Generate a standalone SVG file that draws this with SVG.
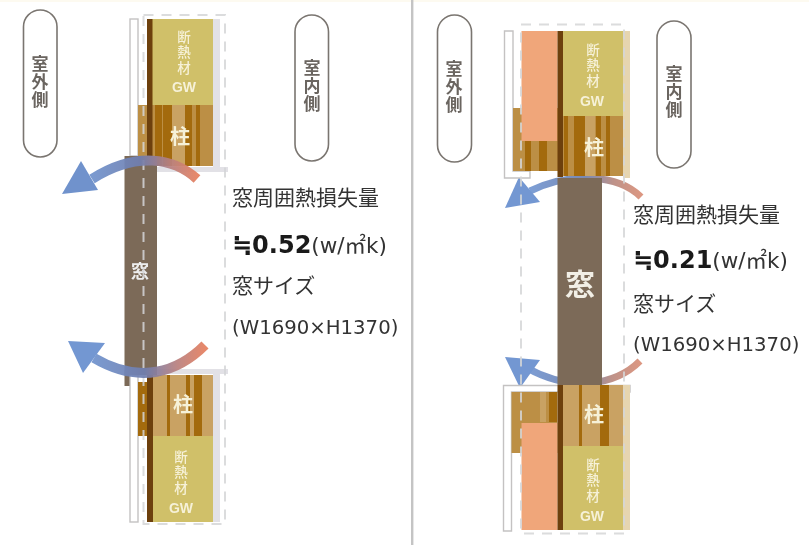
<svg xmlns="http://www.w3.org/2000/svg" width="809" height="545" viewBox="0 0 809 545">
<style>
.pill{fill:#fff;stroke:#7a7570;stroke-width:1.6}
.pt{font-family:"Noto Sans CJK JP",sans-serif;font-weight:700;fill:#6b6560;font-size:17px;text-anchor:middle;writing-mode:vertical-rl;letter-spacing:.7px}
.wt{font-family:"Noto Sans CJK JP",sans-serif;font-weight:700;fill:#f6f1d8;text-anchor:middle}
.wv{font-family:"Noto Sans CJK JP",sans-serif;font-weight:500;fill:#f6f1d8;font-size:13.500px;text-anchor:middle;writing-mode:vertical-rl;letter-spacing:1.800px}
.gw{font-family:"Liberation Sans",sans-serif;font-weight:700;fill:#f6f1d8;font-size:14px;text-anchor:middle}
.t{font-family:"Noto Sans CJK JP",sans-serif;font-size:21px;fill:#333}
.l{font-family:"DejaVu Sans","Noto Sans CJK JP",sans-serif;font-size:19.700px;fill:#333}
.u{font-family:"DejaVu Sans","Noto Sans CJK JP",sans-serif;font-size:21.500px;font-weight:400;fill:#333}
.b{font-family:"DejaVu Sans","Noto Sans CJK JP",sans-serif;font-size:24px;font-weight:700;fill:#1a1a1a}
.sid{fill:#fff;stroke:#c4c2c2;stroke-width:1.4}
.dash{fill:none;stroke:#d5d6d8;stroke-width:2;stroke-dasharray:10 8;opacity:.85}
.ins{fill:#d0c069}.w1{fill:#bc8f45}.w2{fill:#a36a0a}.w3{fill:#c9a263}.dk{fill:#6d3f08}
.org{fill:#f0a67a}.win{fill:#7b6a58}.sh{fill:#e2e1e6}.sh2{fill:#e6d5b0}
.soft{filter:url(#soft)}
</style>
<defs>
<filter id="soft" x="-5%" y="-5%" width="110%" height="110%"><feGaussianBlur stdDeviation=".45"/></filter>
<linearGradient id="ga" x1="0" y1="0" x2="1" y2="0"><stop offset="0" stop-color="#6f92cc"/><stop offset=".45" stop-color="#6f7fb0"/><stop offset=".75" stop-color="#b9807e"/><stop offset="1" stop-color="#e57f5f"/></linearGradient>
<linearGradient id="gb" x1="0" y1="0" x2="1" y2="0"><stop offset="0" stop-color="#7397d2"/><stop offset=".5" stop-color="#6f80ad"/><stop offset=".75" stop-color="#b98a80"/><stop offset="1" stop-color="#d98f78"/></linearGradient>
</defs>
<rect width="809" height="545" fill="#fff"/>
<rect width="809" height="2" fill="#fdfaf0"/>
<rect x="411" y="0" width="2.400" height="545" fill="#c4c4c4"/>

<g id="left-outside" class="soft"><rect class="pill" x="23.500" y="10" width="33.500" height="147" rx="16.700"/>
<text class="pt" x="40" y="82">室外側</text></g>
<g id="left-inside" class="soft"><rect class="pill" x="295" y="15" width="33.500" height="146" rx="16.700"/>
<text class="pt" x="312" y="86">室内側</text></g>

<g id="left-upper-wall" class="soft">
<rect class="sid" x="130" y="19" width="8" height="137"/>
<rect class="sh" x="213" y="19" width="7" height="150"/>
<rect class="sh" x="140" y="167" width="88" height="5"/>
<rect class="ins" x="147" y="19" width="66" height="86"/>
<rect class="w1" x="138" y="105" width="75" height="61"/>
<rect class="w2" x="155" y="105" width="7" height="61"/><rect class="w2" x="163" y="105" width="9" height="61"/><rect class="w3" x="172" y="105" width="13" height="61"/><rect class="w2" x="185" y="105" width="7" height="61"/><rect class="w2" x="196" y="105" width="4" height="61"/>
<rect class="dk" x="147" y="19" width="5.500" height="137"/>
<text class="wv" x="184" y="53">断熱材</text>
<text class="gw" x="184" y="92">GW</text>
<text class="wt" x="180" y="144" font-size="20">柱</text></g>

<g id="left-lower-wall" class="soft">
<rect class="sid" x="130" y="375" width="8" height="147"/>
<rect class="sh" x="213" y="372" width="7" height="150"/>
<rect class="sh" x="140" y="369" width="88" height="5"/>
<rect class="w2" x="138" y="382" width="9" height="54"/>
<rect class="w3" x="152" y="375" width="61" height="61"/>
<rect class="w2" x="167" y="375" width="3" height="61"/><rect class="w2" x="186" y="375" width="4" height="61"/><rect class="w2" x="194" y="375" width="8" height="61"/>
<rect class="ins" x="152" y="436" width="61" height="86"/>
<rect class="dk" x="147" y="375" width="6" height="147"/>
<text class="wt" x="183" y="412" font-size="20">柱</text>
<text class="wv" x="181" y="473">断熱材</text>
<text class="gw" x="181" y="513">GW</text></g>

<g id="left-window" class="soft">
<rect class="win" x="124.500" y="156" width="32.500" height="219"/>
<rect class="win" x="124.500" y="370" width="5" height="16"/>
<text class="wt" x="140" y="278" font-size="18" style="fill:#eee">窓</text></g>
<rect class="dash soft" x="143.500" y="15" width="81.500" height="509"/>

<g id="connectors" class="soft">
<path d="M197 179C174 158 136 151 92 179" fill="none" stroke="url(#ga)" stroke-width="10" opacity=".93"/>
<path d="M62 194L81 161L98 190Z" fill="#6f92cc"/>
<path d="M205 345C178 372 140 385 94 358" fill="none" stroke="url(#ga)" stroke-width="10" opacity=".93"/>
<path d="M68 341L105 343L83 373Z" fill="#7397d2"/>
<path d="M641 197C618 174 570 172 530 191" fill="none" stroke="url(#gb)" stroke-width="7" opacity=".93"/>
<path d="M505 208L519 177L540 202Z" fill="#7397d2"/>
<path d="M640 361C615 386 570 392 527 368" fill="none" stroke="url(#gb)" stroke-width="7" opacity=".93"/>
<path d="M505 357L540 360L520 388Z" fill="#7397d2"/>
</g>

<g id="left-values">
<text class="t" x="232" y="205">窓周囲熱損失量</text>
<text class="b" x="232" y="253">≒0.52<tspan class="u">(w/㎡k)</tspan></text>
<text class="t" x="232" y="293">窓サイズ</text>
<text class="l" x="232" y="334">(W1690×H1370)</text></g>

<g id="right-outside" class="soft"><rect class="pill" x="437.500" y="15" width="34" height="147" rx="17"/>
<text class="pt" x="454" y="87">室外側</text></g>
<g id="right-inside" class="soft"><rect class="pill" x="657" y="21" width="34" height="147" rx="17"/>
<text class="pt" x="674" y="92">室内側</text></g>

<g id="right-upper-wall" class="soft">
<path class="sid" d="M504.500 31H513V171H530V178H504.500Z"/>
<rect class="sh2" x="623" y="31" width="7" height="147"/>
<rect class="w1" x="513" y="108" width="45" height="63"/>
<rect class="w2" x="525" y="141" width="6" height="30"/><rect class="w2" x="539" y="141" width="8" height="30"/>
<rect class="org" x="521.500" y="31" width="36" height="110"/>
<rect class="ins" x="563" y="31" width="60" height="85"/>
<rect class="w1" x="563" y="116" width="60" height="60"/>
<rect class="w2" x="564" y="116" width="4" height="60"/><rect class="w2" x="574" y="116" width="11" height="60"/><rect class="w3" x="585" y="116" width="10" height="60"/><rect class="w2" x="596" y="116" width="5" height="60"/><rect class="w2" x="606" y="116" width="4" height="60"/>
<rect class="dk" x="557.500" y="31" width="5.500" height="146"/>
<text class="wv" x="593" y="66">断熱材</text>
<text class="gw" x="592" y="106">GW</text>
<text class="wt" x="594" y="155" font-size="20">柱</text></g>

<g id="right-lower-wall" class="soft">
<path class="sid" d="M503.500 385.500H630V392H511.500V531H503.500Z"/>
<rect class="sh2" x="623" y="385" width="7" height="145"/>
<rect class="w1" x="511.500" y="392" width="46" height="61"/>
<rect class="w2" x="549" y="392" width="8" height="30"/><rect class="w3" x="540" y="392" width="6" height="30"/>
<rect class="org" x="521.500" y="423" width="36" height="107"/>
<rect class="w3" x="563" y="385" width="60" height="61"/>
<rect class="w2" x="579" y="385" width="3" height="61"/><rect class="w2" x="600" y="385" width="9" height="61"/>
<rect class="ins" x="563" y="446" width="60" height="84"/>
<rect class="dk" x="557.500" y="385" width="5.500" height="145"/>
<text class="wt" x="594" y="422" font-size="20">柱</text>
<text class="wv" x="593" y="481">断熱材</text>
<text class="gw" x="592" y="521">GW</text></g>

<g id="right-window" class="soft">
<rect class="win" x="557.500" y="178" width="44.500" height="207"/>
<text class="wt" x="580" y="295" font-size="30" style="fill:#f2efe6">窓</text></g>
<rect class="dash soft" x="521" y="24.500" width="103" height="509"/>

<g id="right-values">
<text class="t" x="633" y="222">窓周囲熱損失量</text>
<text class="b" x="633" y="268">≒0.21<tspan class="u">(w/㎡k)</tspan></text>
<text class="t" x="633" y="311">窓サイズ</text>
<text class="l" x="633" y="351">(W1690×H1370)</text></g>
</svg>
